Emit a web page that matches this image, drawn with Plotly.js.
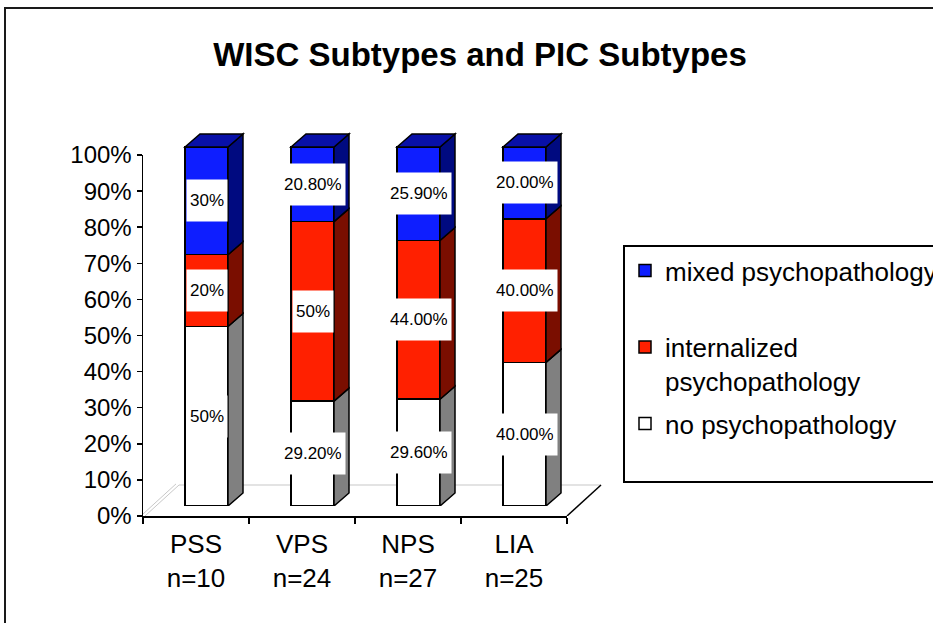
<!DOCTYPE html>
<html>
<head>
<meta charset="utf-8">
<script src="https://cdn.plot.ly/plotly-3.0.1.min.js"></script>
<style>html,body{margin:0;padding:0;background:#fff;}#chart{width:933px;height:623px;}</style>
</head>
<body>
<div id="chart"></div>
<script>
// ---- data ----
const categories = ['PSS', 'VPS', 'NPS', 'LIA'];
const sampleSizes = ['n=10', 'n=24', 'n=27', 'n=25'];
const seriesNames = ['no psychopathology', 'internalized psychopathology', 'mixed psychopathology'];
const noPsychopathology = [50, 29.2, 29.6, 40];
const internalizedPsychopathology = [20, 50, 44, 40];
const mixedPsychopathology = [30, 20.8, 25.9, 20];
const noLabels = ['50%', '29.20%', '29.60%', '40.00%'];
const internalizedLabels = ['20%', '50%', '44.00%', '40.00%'];
const mixedLabels = ['30%', '20.80%', '25.90%', '20.00%'];

// ---- geometry helpers (pixels -> paper) ----
const W = 933, H = 623;
const M = {l: 143, r: 313, t: 100, b: 107};
const PW = W - M.l - M.r, PH = H - M.t - M.b;
const px2x = p => (p - M.l) / PW;
const py2y = p => (H - M.b - p) / PH;

const FONT = 'Liberation Sans, Arial, sans-serif';
const series = [noPsychopathology, internalizedPsychopathology, mixedPsychopathology];
const labels = [noLabels, internalizedLabels, mixedLabels];
const frontColors = ['#FFFFFF', '#FF2000', '#0E1EFF'];
const sideColors = ['#808080', '#7A0E00', '#000A80'];
const topColor = '#0810A8';
const legendNames = ['no psychopathology<br> ', 'internalized<br>psychopathology', 'mixed psychopathology<br> '];
const legendRanks = [3, 2, 1];

const xIdx = categories.map((c, i) => i);
const totals = categories.map((c, i) => series.reduce((s, a) => s + a[i], 0));
const barW = 43 / 106;       // bar width in category units
const dX = 15 / 106;         // depth offset (category units)
const dY = 13 / 359;         // depth offset (y2 units)

const traces = [];
// invisible trace to carry category labels on the main axis
traces.push({
  type: 'scatter', mode: 'markers', x: categories.map((c, i) => c + '<br>' + sampleSizes[i]),
  y: categories.map(() => 0), marker: {opacity: 0}, showlegend: false, hoverinfo: 'skip',
  xaxis: 'x', yaxis: 'y'
});
series.forEach((vals, s) => {
  traces.push({
    type: 'bar', x: xIdx, y: vals, name: legendNames[s], legendgroup: 'g' + s,
    legendrank: legendRanks[s],
    width: barW, xaxis: 'x2', yaxis: 'y2',
    marker: {color: frontColors[s], line: {color: '#000', width: 1.5}},
    hoverinfo: 'skip'
  });
});

const shapes = [];
const annotations = [];
// 3D side and top faces + value labels
categories.forEach((c, i) => {
  let cum = 0;
  const xR = i + barW / 2, xL = i - barW / 2;
  series.forEach((vals, s) => {
    const v = vals[i] / totals[i];
    const y0 = cum, y1 = cum + v;
    shapes.push({
      type: 'path', xref: 'x2', yref: 'y2', layer: 'above',
      path: `M${xR},${y0} L${xR + dX},${y0 + dY} L${xR + dX},${y1 + dY} L${xR},${y1} Z`,
      fillcolor: sideColors[s], line: {color: '#000', width: 1.5}
    });
    annotations.push({
      xref: 'x2', yref: 'y2', x: i, y: (y0 + y1) / 2, text: labels[s][i], showarrow: false,
      bgcolor: '#FFFFFF', borderpad: 3, height: 35,
      font: {family: FONT, size: 17, color: '#000'}
    });
    cum = y1;
  });
  shapes.push({
    type: 'path', xref: 'x2', yref: 'y2', layer: 'above',
    path: `M${xL},${cum} L${xL + dX},${cum + dY} L${xR + dX},${cum + dY} L${xR},${cum} Z`,
    fillcolor: topColor, line: {color: '#000', width: 1.5}
  });
});

// floor of the 3D plot
const floorDepth = 31 / 361;
shapes.push({type: 'line', xref: 'paper', yref: 'y', layer: 'below',
  x0: px2x(145), y0: 0, x1: px2x(179), y1: floorDepth, line: {color: '#C8C8C8', width: 1}});
shapes.push({type: 'line', xref: 'paper', yref: 'y', layer: 'below',
  x0: px2x(142), y0: 0.003, x1: px2x(176), y1: floorDepth + 0.003, line: {color: '#C8C8C8', width: 1}});
shapes.push({type: 'line', xref: 'paper', yref: 'y', layer: 'below',
  x0: px2x(179), y0: floorDepth, x1: px2x(601), y1: floorDepth, line: {color: '#C8C8C8', width: 1.2}});
shapes.push({type: 'line', xref: 'paper', yref: 'y', layer: 'above',
  x0: px2x(567), y0: 0, x1: px2x(601), y1: floorDepth, line: {color: '#000', width: 1.5}});
// outer frame
shapes.push({type: 'rect', xref: 'paper', yref: 'paper', layer: 'below',
  x0: px2x(5), y0: py2y(660), x1: px2x(970), y1: py2y(8),
  line: {color: '#1a1a1a', width: 2}, fillcolor: 'rgba(0,0,0,0)'});

const layout = {
  width: W, height: H,
  margin: {l: M.l, r: M.r, t: M.t, b: M.b, autoexpand: false},
  paper_bgcolor: '#FFFFFF', plot_bgcolor: 'rgba(0,0,0,0)',
  font: {family: FONT, color: '#000'},
  title: {text: '<b>WISC Subtypes and PIC Subtypes</b>', x: 480 / W, xanchor: 'center',
    xref: 'container', yref: 'container', y: 1 - 54 / H, yanchor: 'middle',
    font: {family: FONT, size: 33, color: '#000'}},
  barmode: 'stack', barnorm: 'fraction',
  showlegend: true,
  legend: {x: px2x(623), y: py2y(245), xanchor: 'left', yanchor: 'top',
    bordercolor: '#000', borderwidth: 2, bgcolor: '#FFFFFF',
    font: {family: FONT, size: 26, color: '#000'},
    traceorder: 'grouped', tracegroupgap: 6, valign: 'top'},
  xaxis: {domain: [0, px2x(567)], anchor: 'y', type: 'category', range: [-0.5, 3.5],
    showline: true, linecolor: '#000', linewidth: 1.5, showgrid: false, zeroline: false,
    ticks: 'outside', tickson: 'boundaries', ticklen: 6, tickcolor: '#000', tickwidth: 1.5,
    ticklabelstandoff: 4,
    tickfont: {family: FONT, size: 26, color: '#000'}, fixedrange: true},
  yaxis: {domain: [0, py2y(155)], anchor: 'x', range: [0, 1],
    tickmode: 'linear', tick0: 0, dtick: 0.1, tickformat: '.0%',
    showline: true, linecolor: '#000', linewidth: 1.5, showgrid: false, zeroline: false,
    ticks: 'outside', ticklen: 5, tickcolor: '#000', tickwidth: 1.5,
    tickfont: {family: FONT, size: 24, color: '#000'}, fixedrange: true},
  xaxis2: {domain: [px2x(153.5), px2x(577.5)], anchor: 'y2', range: [-0.5, 3.5], visible: false, fixedrange: true},
  yaxis2: {domain: [py2y(506), py2y(506 - 1.1 * 359)], anchor: 'x2', range: [0, 1.1], visible: false, fixedrange: true},
  shapes: shapes,
  annotations: annotations,
  hovermode: false
};

Plotly.newPlot('chart', traces, layout, {displayModeBar: false, staticPlot: true});
</script>
</body>
</html>
